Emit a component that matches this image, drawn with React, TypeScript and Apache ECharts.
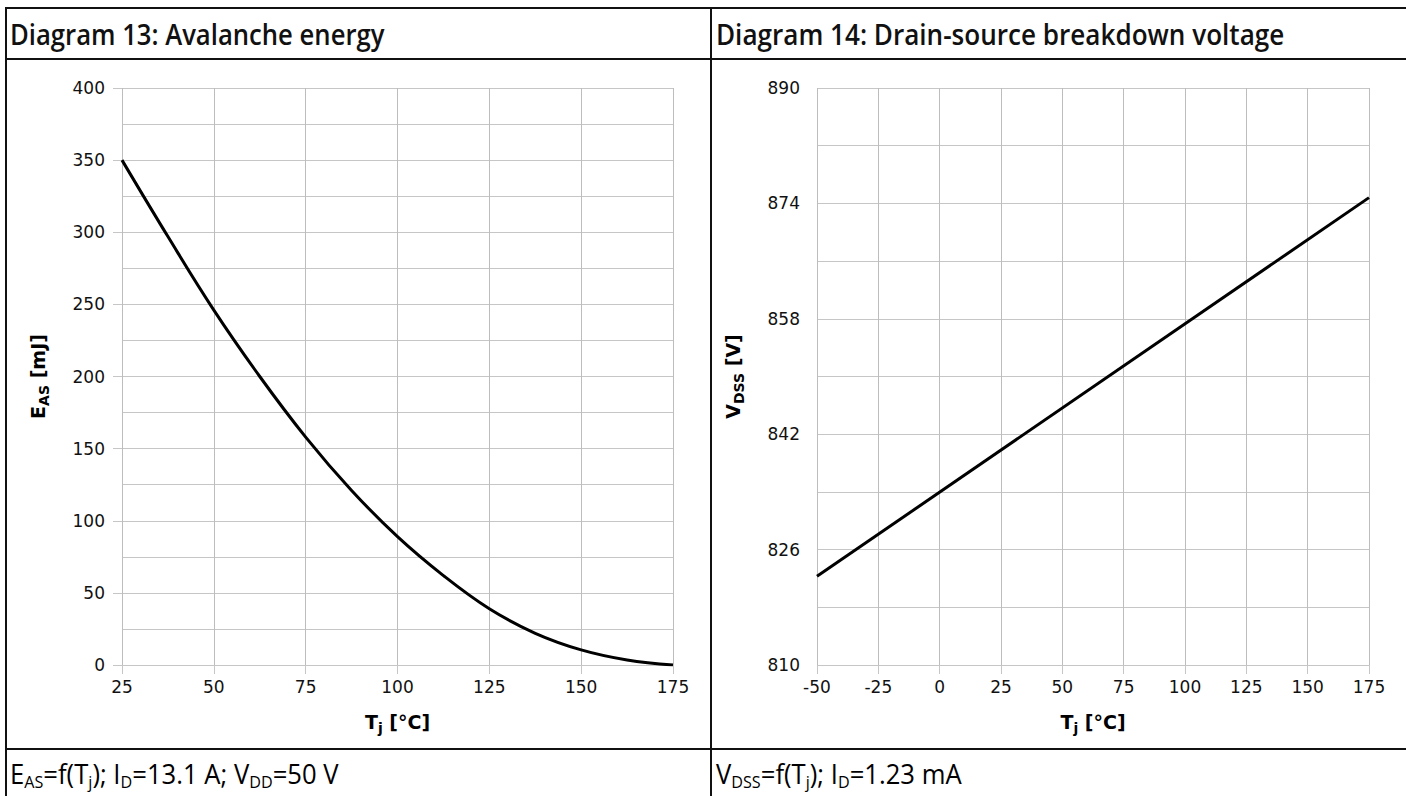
import React, { useEffect, useRef } from "react";
import * as echarts from "echarts";

// Diagram 13: avalanche energy vs junction temperature
const tj1: number[] = [25, 37.5, 50, 62.5, 75, 87.5, 100, 112.5, 125, 137.5, 150, 162.5, 175];
const eas: number[] = [350, 297, 246, 200, 158, 121, 89, 62, 39, 22, 10.5, 3.5, 0];

// Diagram 14: drain-source breakdown voltage vs junction temperature
const tj2: number[] = [-50, 175];
const vdss: number[] = [822.3, 874.8];

const x1Ticks = { min: 25, max: 175, interval: 25 };
const y1Ticks = { min: 0, max: 400, interval: 50 };
const x2Ticks = { min: -50, max: 175, interval: 25 };
const y2Ticks = { min: 810, max: 890, interval: 16 };

const header1 = "Diagram 13: Avalanche energy";
const header2 = "Diagram 14: Drain-source breakdown voltage";

const COND = "'Open Sans', 'Noto Sans', sans-serif";
const SANS = "'DejaVu Sans', sans-serif";
const GRID = "#c6c6c6";
const BORDER = "#111";

function axisName(main: string, sub: string, rest: string) {
  return `{b|${main}}{s|${sub}}{b|${rest}}`;
}

const nameRich = {
  b: { fontFamily: SANS, fontWeight: "bold", fontSize: 19, color: "#000", lineHeight: 28, verticalAlign: "middle" },
  s: { fontFamily: SANS, fontWeight: "bold", fontSize: 14, color: "#000", lineHeight: 28, verticalAlign: "bottom", padding: [0, 0, 1, 0] },
};

function xAxis(gridIndex: number, t: { min: number; max: number; interval: number }) {
  return {
    type: "value",
    gridIndex,
    min: t.min,
    max: t.max,
    interval: t.interval,
    name: axisName("T", "j", " [°C]"),
    nameLocation: "middle",
    nameGap: 43,
    nameTextStyle: { rich: nameRich },
    axisLine: { show: false },
    axisTick: { show: true, length: 9, lineStyle: { color: GRID, width: 1 } },
    axisLabel: { fontFamily: SANS, fontSize: 17, color: "#111", margin: 13 },
    splitLine: { show: true, lineStyle: { color: "#bdbdbd", width: 1 } },
  };
}

function yAxis(gridIndex: number, t: { min: number; max: number; interval: number }, name: string) {
  return {
    type: "value",
    gridIndex,
    min: t.min,
    max: t.max,
    interval: t.interval,
    name,
    nameLocation: "middle",
    nameGap: 70,
    nameRotate: 90,
    nameTextStyle: { rich: nameRich },
    axisLine: { show: false },
    axisTick: { show: true, length: 9, lineStyle: { color: GRID, width: 1 } },
    axisLabel: { fontFamily: SANS, fontSize: 17, color: "#111", margin: 17 },
    splitLine: { show: true, lineStyle: { color: GRID, width: 1 } },
    minorTick: { show: false, splitNumber: 2 },
    minorSplitLine: { show: true, lineStyle: { color: GRID, width: 1 } },
  };
}

const footRich = {
  n: { fontFamily: COND, fontSize: 27, color: "#111", lineHeight: 34, verticalAlign: "middle" },
  s: { fontFamily: COND, fontSize: 17, color: "#111", lineHeight: 34, verticalAlign: "bottom", padding: [0, 0, 1, 0] },
};

export default function App() {
  const ref = useRef<HTMLDivElement>(null);
  useEffect(() => {
    if (!ref.current) return;
    const chart = echarts.init(ref.current, undefined, { renderer: "svg" });
    const hline = (y: number, x1: number, x2: number) => ({
      type: "line",
      shape: { x1, y1: y, x2, y2: y },
      style: { stroke: BORDER, lineWidth: 2 },
    });
    const vline = (x: number, y1: number, y2: number) => ({
      type: "line",
      shape: { x1: x, y1, x2: x, y2 },
      style: { stroke: BORDER, lineWidth: 2 },
    });
    const headerStyle = { fontFamily: COND, fontSize: 29, fontWeight: 600, fill: "#111", verticalAlign: "middle" };
    chart.setOption({
      animation: false,
      backgroundColor: "#fff",
      grid: [
        { left: 122, right: 1406 - 673, top: 88, bottom: 796 - 665 },
        { left: 817, right: 1406 - 1369, top: 88, bottom: 796 - 665 },
      ],
      xAxis: [xAxis(0, x1Ticks), xAxis(1, x2Ticks)],
      yAxis: [
        yAxis(0, y1Ticks, axisName("E", "AS", " [mJ]")),
        yAxis(1, y2Ticks, axisName("V", "DSS", " [V]")),
      ],
      series: [
        {
          type: "line",
          xAxisIndex: 0,
          yAxisIndex: 0,
          data: tj1.map((t, i) => [t, eas[i]]),
          smooth: 0.4,
          showSymbol: false,
          lineStyle: { color: "#000", width: 3 },
        },
        {
          type: "line",
          xAxisIndex: 1,
          yAxisIndex: 1,
          data: tj2.map((t, i) => [t, vdss[i]]),
          showSymbol: false,
          lineStyle: { color: "#000", width: 3 },
        },
      ],
      graphic: [
        hline(8, 5, 1406),
        hline(59, 5, 1406),
        hline(749, 5, 1406),
        vline(6, 7, 796),
        vline(711, 7, 796),
        { type: "text", x: 10, y: 34, scaleX: 0.885, style: { text: header1, ...headerStyle } },
        { type: "text", x: 716, y: 34, scaleX: 0.9, style: { text: header2, ...headerStyle } },
        {
          type: "text",
          x: 10,
          y: 774,
          scaleX: 0.95,
          style: {
            text: "{n|E}{s|AS}{n|=f(T}{s|j}{n|); I}{s|D}{n|=13.1 A; V}{s|DD}{n|=50 V}",
            rich: footRich,
            verticalAlign: "middle",
          },
        },
        {
          type: "text",
          x: 716,
          y: 774,
          scaleX: 0.95,
          style: {
            text: "{n|V}{s|DSS}{n|=f(T}{s|j}{n|); I}{s|D}{n|=1.23 mA}",
            rich: footRich,
            verticalAlign: "middle",
          },
        },
      ],
    });
    return () => chart.dispose();
  }, []);
  return <div ref={ref} style={{ position: "fixed", left: 0, top: 0, width: 1406, height: 796 }} />;
}
